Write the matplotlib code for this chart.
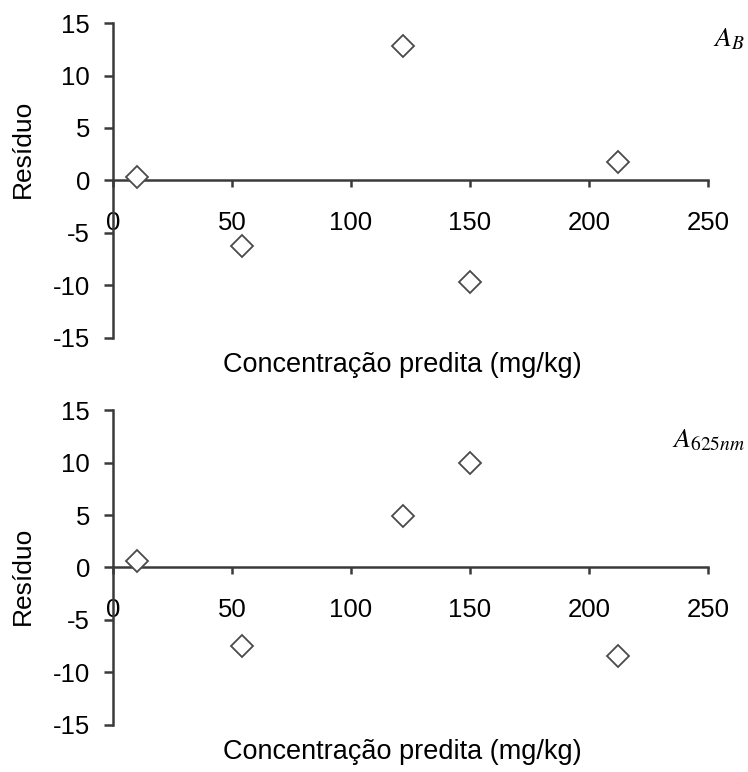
import numpy as np
import matplotlib.pyplot as plt

plt.rcParams['font.family'] = ['Liberation Sans', 'DejaVu Sans']
plt.rcParams['mathtext.fontset'] = 'stix'
plt.rcParams['axes.unicode_minus'] = False

# predicted concentration (mg/kg) and residuals
conc = [10, 54, 122, 150, 212]
res_ab = [0.3, -6.2, 12.8, -9.7, 1.8]
res_625 = [0.6, -7.5, 4.9, 10.0, -8.4]

panels = [
    (res_ab, r'$A_{B}$', 0.6, 0.925),
    (res_625, r'$A_{\mathit{625nm}}$', 0.473, 0.88),
]

fig = plt.figure(figsize=(7.48, 7.72), dpi=100)
axes = [fig.add_axes([0.1511, 0.5622, 0.7955, 0.408]),
        fig.add_axes([0.1511, 0.0609, 0.7955, 0.408])]

axcol = '#3a3a3a'
for ax, (res, tag, ylab_y, tag_y) in zip(axes, panels):
    ax.plot(conc, res, linestyle='none', marker='D', markersize=11,
            markerfacecolor='white', markeredgecolor='#4a4a4a',
            markeredgewidth=1.3, clip_on=False, zorder=3)
    ax.set_xlim(0, 250)
    ax.set_ylim(-15, 15)
    ax.set_xticks([0, 50, 100, 150, 200, 250])
    ax.set_yticks([-15, -10, -5, 0, 5, 10, 15])

    for s in ['top', 'right']:
        ax.spines[s].set_visible(False)
    ax.spines['bottom'].set_position(('data', 0))
    for s in ['bottom', 'left']:
        ax.spines[s].set_color(axcol)
        ax.spines[s].set_linewidth(1.8)

    ax.tick_params(axis='x', direction='out', length=5, width=1.8,
                   color=axcol, labelsize=18.5, pad=17)
    ax.tick_params(axis='y', direction='out', length=6.5, width=1.8,
                   color=axcol, labelsize=18.5, pad=10)

    ax.set_xlabel('Concentração predita (mg/kg)', fontsize=19.5)
    ax.xaxis.label.set_va('center')
    ax.xaxis.set_label_coords(0.4866, -0.0857)
    ax.set_ylabel('Resíduo', fontsize=19)
    ax.yaxis.label.set_va('center')
    ax.yaxis.set_label_coords(-0.151, ylab_y)

    ax.text(1.062, tag_y, tag, transform=ax.transAxes, ha='right',
            va='baseline', fontsize=20, clip_on=False)

fig.savefig('out.png', dpi=100)
